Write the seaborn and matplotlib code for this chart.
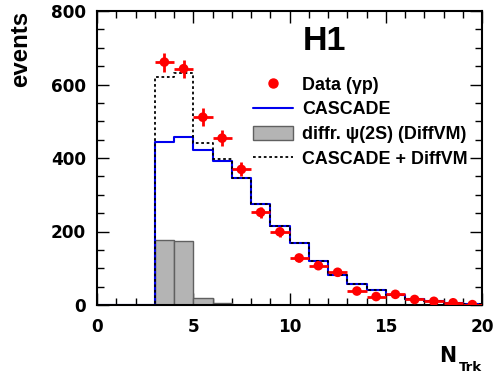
import numpy as np
import pandas as pd
import matplotlib
matplotlib.use("Agg")
import matplotlib.pyplot as plt
from matplotlib.lines import Line2D
from matplotlib.patches import Patch
from matplotlib.ticker import MultipleLocator
import seaborn as sns

# ---- data ----
bin_edges = list(range(0, 21))
cascade = [0, 0, 0, 443, 456, 422, 393, 345, 276, 214, 168, 120, 82, 58, 40, 26, 17, 10, 6, 3]
diffvm = [0, 0, 0, 178, 174, 20, 5, 1, 0, 0, 0, 0, 0, 0, 0, 0, 0, 0, 0, 0]
data_x = [3.5, 4.5, 5.5, 6.5, 7.5, 8.5, 9.5, 10.5, 11.5, 12.5, 13.5, 14.5, 15.5, 16.5, 17.5, 18.5, 19.5]
data_y = [661, 643, 511, 454, 369, 252, 199, 128, 107, 89, 38, 23, 29, 15, 10, 6, 1]
data_err = [26, 25, 24, 22, 19, 16, 14, 11, 10, 9, 6, 5, 5, 4, 3, 2, 1]
x_ticks = [0, 5, 10, 15, 20]
y_ticks = [0, 200, 400, 600, 800]

sns.set_style("ticks")
LIB = ["Liberation Sans", "DejaVu Sans"]
DJV = ["DejaVu Sans"]
plt.rcParams["font.family"] = LIB
plt.rcParams["font.weight"] = "bold"
for k in ["text.color", "axes.labelcolor", "xtick.color", "ytick.color", "axes.edgecolor"]:
    plt.rcParams[k] = "black"

edges = [float(e) for e in bin_edges]
centers = [(a + b) / 2 for a, b in zip(edges[:-1], edges[1:])]
df = pd.DataFrame({"center": centers, "cascade": cascade, "diffvm": diffvm})
df["total"] = df["cascade"] + df["diffvm"]
nz = (df["diffvm"] > 0).values
first = int(np.argmax(nz))
last = int(len(nz) - np.argmax(nz[::-1]))
df_dvm = df.iloc[first:last]

fig = plt.figure(figsize=(4.98, 3.78), dpi=100)
ax = fig.add_axes([97 / 498, 1 - 305 / 378, (482 - 97) / 498, (305 - 11) / 378])

# gray DiffVM bars (only non-zero bins)
sns.histplot(data=df_dvm, x="center", weights="diffvm", bins=edges[first:last + 1],
             element="bars", fill=True, color="#b4b4b4", edgecolor="#606060",
             linewidth=1.0, alpha=1, ax=ax)
# CASCADE
sns.histplot(data=df, x="center", weights="cascade", bins=edges, element="step", fill=False,
             color="#0000ee", linewidth=1.5, ax=ax)
# sum
sns.histplot(data=df, x="center", weights="total", bins=edges, element="step", fill=False,
             color="black", linewidth=1.3, linestyle=(0, (1.5, 1.5)), ax=ax)

# data
ax.errorbar(data_x, data_y, xerr=0.5, yerr=data_err, fmt="none", ecolor="#ff0000",
            elinewidth=2.0, capsize=0, zorder=5)
sns.scatterplot(x=data_x, y=data_y, color="#ff0000", s=48, edgecolor="none",
                ax=ax, zorder=6)

ax.set_xlim(0, 20)
ax.set_ylim(0, 800)
ax.set_xlabel("")
ax.set_ylabel("")
ax.set_xticks(x_ticks)
ax.set_yticks(y_ticks)
ax.xaxis.set_minor_locator(MultipleLocator(1))
ax.yaxis.set_minor_locator(MultipleLocator(50))
ax.tick_params(which="both", direction="in", top=True, right=True, width=1.0, color="black")
ax.tick_params(which="major", length=8.6, labelsize=12.2, labelcolor="black")
ax.tick_params(axis="x", which="major", pad=9)
ax.tick_params(axis="y", which="major", pad=8)
ax.tick_params(which="minor", length=4.8)
for lab in ax.get_xticklabels() + ax.get_yticklabels():
    lab.set_fontweight("bold")
    lab.set_family(DJV)
for sp in ax.spines.values():
    sp.set_linewidth(1.5)
    sp.set_color("black")

# H1
ax.text(0.535, 0.869, "H1", transform=ax.transAxes, fontsize=24.5, fontweight="bold",
        family=LIB, ha="left", va="baseline")

# legend
handles = [
    Line2D([], [], marker="o", color="#ff0000", linestyle="none", markersize=6.5),
    Line2D([], [], color="#0000ee", linewidth=1.5),
    Patch(facecolor="#b4b4b4", edgecolor="#606060", linewidth=1.0),
    Line2D([], [], color="black", linewidth=1.3, linestyle=(0, (1.5, 1.5))),
]
labels = ["Data (\u03b3p)", "CASCADE", "diffr. \u03c8(2S) (DiffVM)", "CASCADE + DiffVM"]
fig.legend(handles, labels, loc="upper left", bbox_to_anchor=(253 / 498, 1 - 76 / 378),
           frameon=False, handlelength=2.23, handleheight=0.9,
           handletextpad=0.5, labelspacing=0.4, borderpad=0, borderaxespad=0,
           prop={"weight": "bold", "size": 12.9, "family": LIB})

# axis labels
fig.text(21 / 498, 1 - 11 / 378, "events", rotation=90, ha="center", va="top",
         fontsize=17.3, fontweight="bold", family=LIB)
fig.text(456 / 498, 1 - 362 / 378, "N", ha="right", va="baseline", fontsize=14.8,
         fontweight="bold", family=DJV)
fig.text(459 / 498, 1 - 371 / 378, "Trk", ha="left", va="baseline", fontsize=9.5,
         fontweight="bold", family=DJV)

fig.savefig("out.png", dpi=100)
